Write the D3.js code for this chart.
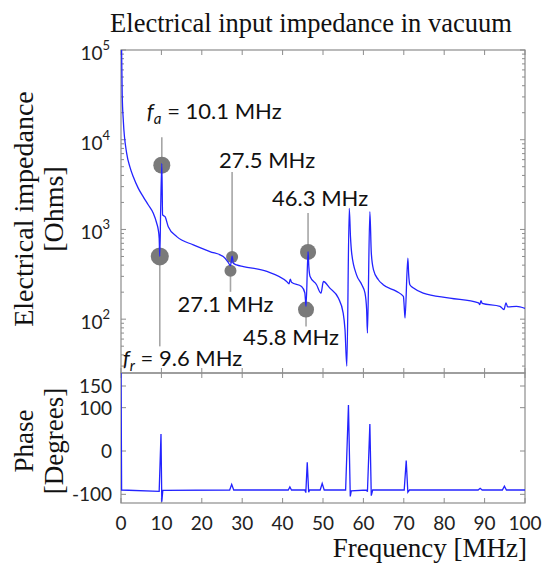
<!DOCTYPE html>
<html><head><meta charset="utf-8">
<script src="https://cdn.jsdelivr.net/npm/d3@7"></script>
<style>body{margin:0;background:#fff}</style>
</head><body>
<svg id="c" width="546" height="563"></svg>
<script>
// ---- data ----
const impFreq = [0.05,0.15,0.3,0.57,1.41,2.2,3.04,4.29,5.52,6.77,8.0,8.84,9.23,9.45,9.6,9.8,10.1,10.3,10.9,11.7,13.8,17.9,22.0,25.3,26.4,27.1,27.5,27.8,28.6,30.3,36.1,41.0,41.6,41.9,42.2,44.7,45.5,45.8,46.3,46.5,46.8,48.4,49.5,50.1,51.7,53.8,55.0,55.45,55.9,56.5,56.8,57.1,58.3,59.6,60.4,60.8,61.0,61.6,61.96,62.5,63.7,64.9,68.2,69.9,70.1,70.3,71.0,71.2,71.5,72.4,74.8,81.4,88.5,88.8,89.1,89.4,93.8,94.8,95.3,95.7,97.9,100];
const impOhms = [200000,100000,32000,16500,7030,4990,3860,2870,2310,1872,1514,1172,987,800,500,1500,5440,1449,1387,1074,832,673,566,499,439,395,505,420,403,386,340,263,248,280,258,231,197,139,566,380,299,242,195,263,222,172,117,76,30,1720,832,544,312,242,195,128,70,1577,544,355,275,242,204,179,139,103,478,320,242,222,195,172,152,145,161,150,139,128,152,137,139,132];
const phaseFreq = [0,0.15,9.45,9.9,10.1,10.35,26.9,27.4,27.9,41.4,41.8,42.2,45.5,45.75,46.1,46.45,46.7,49.3,49.8,50.3,55.6,56.3,56.75,57.0,60.8,61.0,61.6,61.95,62.3,70.1,70.6,71.0,71.4,88.4,88.9,89.4,94.4,94.9,95.4,100];
const phaseDeg = [200,-90,-93,39,-117,-91,-90,-77,-90,-90,-83,-90,-90,-96,-26,-95,-90,-90,-75,-90,-90,106,-105,-92,-90,-94,62,-103,-90,-90,-22,-95,-90,-90,-86,-90,-90,-81,-90,-90];
const markerFreq = [10.1, 9.6, 27.5, 27.1, 46.3, 45.8];
const markerOhms = [5210, 501, 494, 346, 562, 128];
const markerSub  = ["a", "r", "", "", "", ""];
const markerText = ["10.1 MHz", "9.6 MHz", "27.5 MHz", "27.1 MHz", "46.3 MHz", "45.8 MHz"];
const xTicks = [0,10,20,30,40,50,60,70,80,90,100];
const zTicks = [1e2,1e3,1e4,1e5];
const phaseTicks = [-100,0,100,150];
const title = "Electrical input impedance in vacuum";

// ---- layout ----
const L=121, R=525, T1=50, B1=373, B2=503;
const SERIF = "'Liberation Serif', 'DejaVu Serif', serif";
const SANS = "Lato, 'Open Sans', sans-serif";
const blue = "#2323ff", frameCol = "#8c8c8c";

const svg = d3.select("#c");
const x = d3.scaleLinear([0,100],[L,R]);
const yZ = d3.scaleLog([Math.pow(10,1.4),1e5],[B1,T1]);
const yP = d3.scaleLinear([-120,180],[B2,B1]);

const defs = svg.append("defs");
defs.append("clipPath").attr("id","c1").append("rect").attr("x",L).attr("y",T1).attr("width",R-L).attr("height",B1-T1);
defs.append("clipPath").attr("id","c2").append("rect").attr("x",L).attr("y",B1).attr("width",R-L).attr("height",B2-B1);

// frames
[[T1,B1],[B1,B2]].forEach(([a,b])=>{
  svg.append("rect").attr("x",L).attr("y",a).attr("width",R-L).attr("height",b-a)
    .attr("fill","none").attr("stroke",frameCol).attr("stroke-width",1.2);
});

// ticks
const tk = svg.append("g").attr("stroke",frameCol).attr("stroke-width",1);
xTicks.forEach(t=>{
  const px = x(t);
  [[T1,5],[B1,-5],[B1,5],[B2,-5]].forEach(([y0,d])=>{
    tk.append("line").attr("x1",px).attr("x2",px).attr("y1",y0).attr("y2",y0+d);
  });
});
const minor = [];
for (let e=1; e<5; e++) for (let m=2; m<10; m++){ const v=m*Math.pow(10,e); if (v>yZ.domain()[0]) minor.push(v); }
minor.forEach(v=>{
  const py=yZ(v);
  tk.append("line").attr("x1",L).attr("x2",L+3).attr("y1",py).attr("y2",py);
  tk.append("line").attr("x1",R).attr("x2",R-3).attr("y1",py).attr("y2",py);
});
zTicks.forEach(v=>{
  const py=yZ(v);
  tk.append("line").attr("x1",L).attr("x2",L+5).attr("y1",py).attr("y2",py);
  tk.append("line").attr("x1",R).attr("x2",R-5).attr("y1",py).attr("y2",py);
});
phaseTicks.forEach(v=>{
  const py=yP(v);
  tk.append("line").attr("x1",L).attr("x2",L+5).attr("y1",py).attr("y2",py);
  tk.append("line").attr("x1",R).attr("x2",R-5).attr("y1",py).attr("y2",py);
});

// tick labels
xTicks.forEach(t=>{
  svg.append("text").attr("x",x(t)).attr("y",530).attr("text-anchor","middle")
    .attr("font-family",SANS).attr("font-size",19).attr("fill","#222").text(t);
});
zTicks.forEach(v=>{
  const e = Math.round(Math.log10(v));
  const t = svg.append("text").attr("x",110).attr("y",yZ(v)+10).attr("text-anchor","end")
    .attr("font-family",SANS).attr("font-size",19).attr("fill","#222");
  t.append("tspan").text("10");
  t.append("tspan").attr("dy",-10).attr("font-size",13).text(e);
});
phaseTicks.forEach(v=>{
  svg.append("text").attr("x",112).attr("y",yP(v)+7).attr("text-anchor","end")
    .attr("font-family",SANS).attr("font-size",19).attr("fill","#222").text(v);
});

// titles
svg.append("text").attr("x",311).attr("y",32).attr("text-anchor","middle")
  .attr("font-family",SERIF).attr("font-size",26.5).attr("fill","#111").text(title);
svg.append("text").attr("x",527).attr("y",557).attr("text-anchor","end")
  .attr("font-family",SERIF).attr("font-size",27).attr("fill","#111").text("Frequency [MHz]");
function vlabel(lines, cy, fs){
  lines.forEach((s,i)=>{
    svg.append("text").attr("transform",`translate(${33+i*30},${cy}) rotate(-90)`)
      .attr("text-anchor","middle").attr("font-family",SERIF).attr("font-size",fs).attr("fill","#111").text(s);
  });
}
vlabel(["Electrical impedance","[Ohms]"], 209, 28);
vlabel(["Phase","[Degrees]"], 441, 27);

// markers (under the curve)
const leader = [-28, 90, -85, 21, -39, 17];
const labDx = [-15, -37, -13, -53, -36, -63];
const labDy = [-46, 110, -89, 41, -46, 35];
const rad = [8.5, 9, 6, 6, 8, 8];
const mk = svg.append("g");
markerFreq.forEach((f,i)=>{
  const cx=x(f), cy=yZ(markerOhms[i]);
  mk.append("line").attr("x1",cx).attr("x2",cx).attr("y1",cy).attr("y2",cy+leader[i])
    .attr("stroke","#a6a6a6").attr("stroke-width",1.6);
  mk.append("circle").attr("cx",cx).attr("cy",cy).attr("r",rad[i]).attr("fill","#7a7a7a");
  const t = mk.append("text").attr("x",cx+labDx[i]).attr("y",cy+labDy[i])
    .attr("font-family",SANS).attr("font-size",22).attr("fill","#111");
  if (markerSub[i]) {
    t.append("tspan").attr("font-style","italic").text("f");
    t.append("tspan").attr("font-style","italic").attr("font-size",15).attr("dy",5).text(markerSub[i]);
    t.append("tspan").attr("dy",-5).text(" = " + markerText[i]);
  } else t.text(markerText[i]);
});

// curves
const zData = impFreq.map((f,i)=>[f, impOhms[i]]);
svg.append("path").datum(zData).attr("clip-path","url(#c1)")
  .attr("d", d3.line().curve(d3.curveMonotoneX).x(d=>x(d[0])).y(d=>yZ(d[1])))
  .attr("fill","none").attr("stroke",blue).attr("stroke-width",1.3);
const pData = phaseFreq.map((f,i)=>[f, phaseDeg[i]]);
svg.append("path").datum(pData).attr("clip-path","url(#c2)")
  .attr("d", d3.line().x(d=>x(d[0])).y(d=>yP(d[1])))
  .attr("fill","none").attr("stroke",blue).attr("stroke-width",1.3);
</script>
</body></html>
